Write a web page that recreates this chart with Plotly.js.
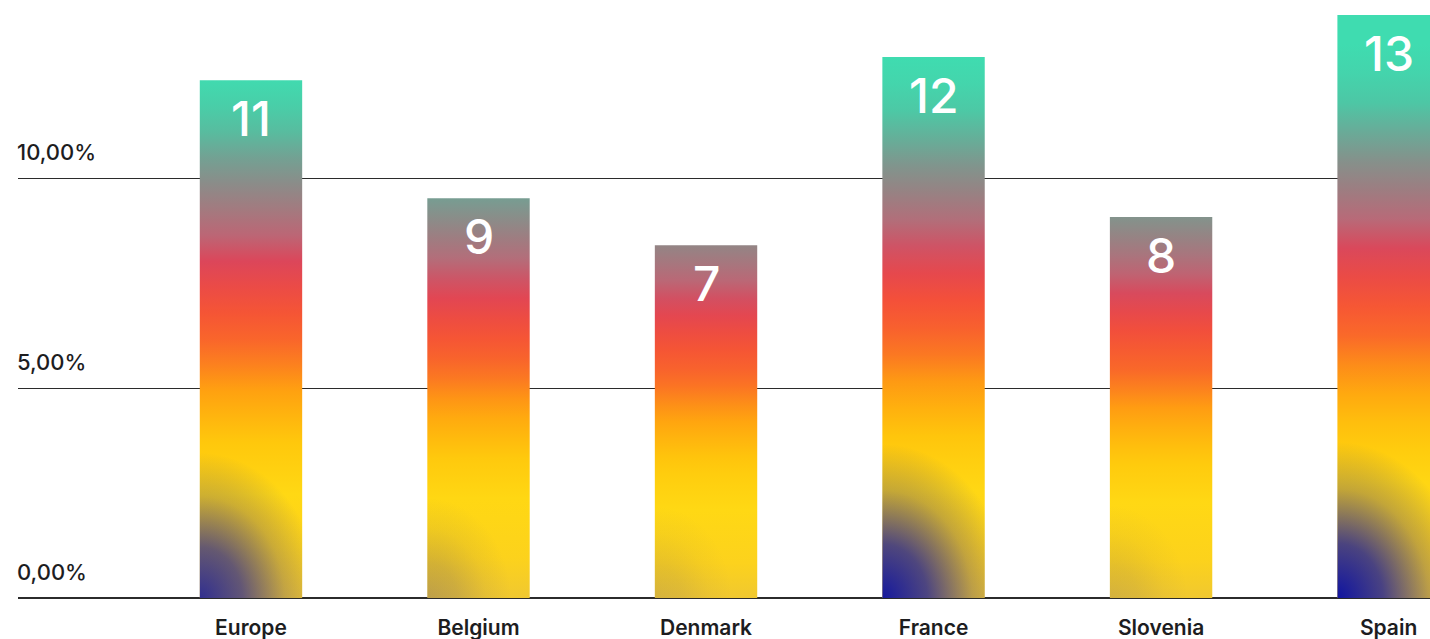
<!DOCTYPE html>
<html>
<head>
<meta charset="utf-8">
<script src="https://cdn.plot.ly/plotly-3.0.1.min.js"></script>
<style>
  html, body { margin: 0; padding: 0; background: #ffffff; }
  #chart { width: 1430px; height: 639px; }
</style>
</head>
<body>
<div id="chart"></div>
<script>
// ---- data ----
const categories = ["Europe", "Belgium", "Denmark", "France", "Slovenia", "Spain"];
const barValues = [12.33, 9.52, 8.40, 12.88, 9.07, 13.88];   // bar heights (%)
const barLabels = ["11", "9", "7", "12", "8", "13"];          // numbers printed in bars
const yTickVals = [0, 5, 10];
const yTickText = ["0,00%", "5,00%", "10,00%"];

// ---- style ----
const FONT = "Inter, 'Open Sans', sans-serif";
const TEXT = "#1d1d1f";
const GRID = "#2b2b2b";

const trace = {
  type: "bar",
  x: categories,
  y: barValues,
  width: 0.45,
  marker: { color: "#ffd010", line: { width: 0 } },
  hoverinfo: "skip",
  cliponaxis: true
};

const annotations = [];
categories.forEach((c, i) => {
  annotations.push({
    x: c, y: barValues[i], xref: "x", yref: "y",
    text: barLabels[i], showarrow: false,
    xanchor: "center", yanchor: "top", yshift: -7,
    font: { family: FONT, size: 48, color: "#ffffff", weight: 500 }
  });
});
yTickVals.forEach((v, i) => {
  annotations.push({
    x: 0, xref: "paper", y: v, yref: "y",
    text: yTickText[i], showarrow: false,
    xanchor: "left", yanchor: "bottom", yshift: 11, xshift: -3,
    font: { family: FONT, size: 22, color: TEXT, weight: 500 }
  });
});

const layout = {
  width: 1430, height: 639,
  margin: { l: 18, r: 0, t: 0, b: 41 },
  paper_bgcolor: "#ffffff",
  plot_bgcolor: "#ffffff",
  showlegend: false,
  xaxis: {
    type: "category",
    range: [-1.024, 5.182],
    showgrid: false, zeroline: false,
    showline: false,
    ticks: "",
    ticklabelstandoff: 15,
    tickfont: { family: FONT, size: 21, color: TEXT, weight: 600 },
    fixedrange: true
  },
  yaxis: {
    range: [0, 14.238],
    tickvals: yTickVals,
    showticklabels: false,
    showgrid: true, gridcolor: GRID, gridwidth: 1,
    zeroline: true, zerolinecolor: GRID, zerolinewidth: 1.2,
    showline: false, ticks: "",
    fixedrange: true
  },
  annotations: annotations
};

// reference colour ramp (0 = top of a tall bar, 1 = base)
const ramp = [
  [0.00, [63, 220, 176]],
  [0.09, [78, 198, 164]],
  [0.17, [122, 154, 144]],
  [0.24, [154, 128, 130]],
  [0.30, [184, 106, 120]],
  [0.36, [222, 68, 88]],
  [0.44, [244, 80, 56]],
  [0.52, [250, 106, 40]],
  [0.60, [255, 160, 16]],
  [0.70, [255, 200, 12]],
  [0.80, [255, 216, 20]],
  [0.92, [252, 210, 28]],
  [1.00, [240, 200, 48]]
];
function colorAt(u) {
  u = Math.max(0, Math.min(1, u));
  for (let k = 1; k < ramp.length; k++) {
    if (u <= ramp[k][0]) {
      const a = ramp[k - 1], b = ramp[k];
      const t = (u - a[0]) / (b[0] - a[0]);
      const c = a[1].map((v, j) => Math.round(v + (b[1][j] - v) * t));
      return "rgb(" + c.join(",") + ")";
    }
  }
  return "rgb(" + ramp[ramp.length - 1][1].join(",") + ")";
}

Plotly.newPlot("chart", [trace], layout, { displayModeBar: false, staticPlot: true }).then(gd => {
  const svg = gd.querySelector(".main-svg");
  const NS = "http://www.w3.org/2000/svg";
  let defs = svg.querySelector("defs");
  const paths = gd.querySelectorAll(".barlayer .point path");
  paths.forEach((p, i) => {
    const v = barValues[i];
    const u0 = (12.5 - v) * 0.055;
    const lg = document.createElementNS(NS, "linearGradient");
    lg.setAttribute("id", "barGrad" + i);
    lg.setAttribute("x1", "0"); lg.setAttribute("y1", "0");
    lg.setAttribute("x2", "0"); lg.setAttribute("y2", "1");
    for (let s = 0; s <= 20; s++) {
      const o = s / 20;
      const st = document.createElementNS(NS, "stop");
      st.setAttribute("offset", o);
      st.setAttribute("stop-color", colorAt(u0 + o * (1 - u0)));
      lg.appendChild(st);
    }
    defs.appendChild(lg);
    p.style.fill = "url(#barGrad" + i + ")";
    p.style.fillOpacity = 1;

    const bb = p.getBBox();
    const s = Math.max(0.12, Math.min(1, (v - 8.5) / 4.5));
    const R = 70 + 60 * s;
    const cx = bb.x, cy = bb.y + bb.height;
    const rg = document.createElementNS(NS, "radialGradient");
    rg.setAttribute("id", "barGlow" + i);
    rg.setAttribute("gradientUnits", "userSpaceOnUse");
    rg.setAttribute("cx", cx);
    rg.setAttribute("cy", cy);
    rg.setAttribute("r", R);
    rg.setAttribute("gradientTransform",
      "translate(" + cx + "," + cy + ") scale(1,1.2) translate(" + (-cx) + "," + (-cy) + ")");
    [[0, 1.0], [0.35, 0.75], [0.7, 0.25], [1, 0]].forEach(([o, a]) => {
      const st = document.createElementNS(NS, "stop");
      st.setAttribute("offset", o);
      st.setAttribute("stop-color", "rgb(16,20,160)");
      st.setAttribute("stop-opacity", a * s);
      rg.appendChild(st);
    });
    defs.appendChild(rg);
    const glow = p.cloneNode(true);
    glow.style.fill = "url(#barGlow" + i + ")";
    glow.style.fillOpacity = 1;
    p.parentNode.insertBefore(glow, p.nextSibling);
  });
});
</script>
</body>
</html>
